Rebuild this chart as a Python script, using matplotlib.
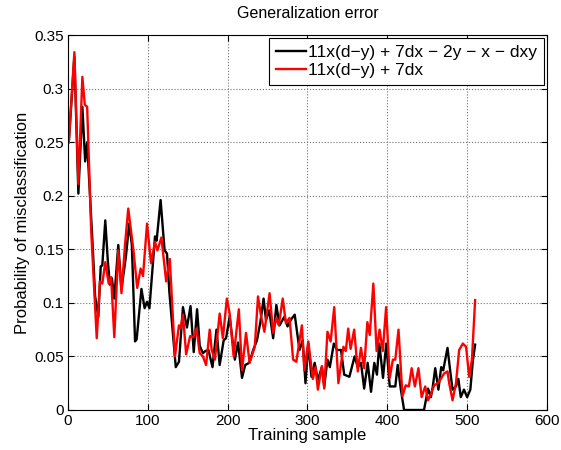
import matplotlib
matplotlib.use("Agg")
import matplotlib.pyplot as plt
from matplotlib.ticker import FormatStrFormatter

plt.rcParams.update({
    "font.family": ["Liberation Sans", "DejaVu Sans"],
    "font.size": 11,
    "axes.linewidth": 0.8,
    "xtick.direction": "in",
    "ytick.direction": "in",
    "xtick.top": True,
    "ytick.right": True,
})

# values
black_x = [1, 8, 13, 18, 21.5, 24, 31, 34, 38, 41, 43, 46.7, 50, 52.5, 55, 58, 63, 67,
           72.5, 76.7, 80, 84, 86, 92, 96, 99, 102, 109, 111, 116, 121, 124, 127, 135,
           139, 144, 149, 153.5, 157.5, 161.7, 165, 169, 172, 176, 181, 186, 190, 195,
           198, 202.5, 209, 213, 218, 222, 227, 232, 236.7, 241, 245, 248, 252, 257,
           261, 265, 271, 275, 279, 284, 290, 294, 297.5, 301, 305, 309, 313, 318, 321,
           325, 328, 333, 337, 342, 346, 352.5, 359, 363, 367, 371, 375.4, 379.6,
           383.7, 387, 390, 394.6, 398.7, 403, 407, 410, 413, 417, 421, 446, 451,
           454.6, 457, 460, 464, 467.5, 470, 475.4, 478.7, 481.7, 486, 489, 492, 496,
           500, 504, 507, 510]
black_y = [0.250, 0.330, 0.202, 0.283, 0.232, 0.250, 0.152, 0.106, 0.087, 0.134, 0.135,
           0.177, 0.138, 0.117, 0.123, 0.104, 0.154, 0.113, 0.143, 0.174, 0.154, 0.064,
           0.066, 0.113, 0.095, 0.101, 0.095, 0.162, 0.158, 0.196, 0.149, 0.146, 0.110,
           0.040, 0.045, 0.096, 0.077, 0.097, 0.054, 0.094, 0.060, 0.053, 0.055, 0.056,
           0.040, 0.075, 0.042, 0.065, 0.067, 0.087, 0.047, 0.063, 0.030, 0.042, 0.044,
           0.056, 0.065, 0.082, 0.104, 0.084, 0.093, 0.067, 0.098, 0.079, 0.087, 0.078,
           0.084, 0.089, 0.056, 0.065, 0.025, 0.062, 0.031, 0.044, 0.028, 0.040, 0.022,
           0.047, 0.040, 0.062, 0.056, 0.056, 0.033, 0.031, 0.050, 0.040, 0.044, 0.020,
           0.044, 0.017, 0.044, 0.033, 0.062, 0.030, 0.062, 0.022, 0.022, 0.022, 0.042,
           0.019, 0.0, 0.0, 0.020, 0.012, 0.022, 0.039, 0.019, 0.040, 0.037, 0.058,
           0.037, 0.019, 0.022, 0.029, 0.012, 0.019, 0.012, 0.019, 0.045, 0.061]

red_x = [1, 8, 13, 18, 21, 24, 29, 36, 40, 43, 46.7, 51, 54, 58, 63, 67, 71.5, 75.5, 82,
         86.7, 91, 94, 99, 104, 109, 112, 117, 123, 127.5, 134, 139, 141, 144, 148, 153,
         157, 161, 165, 169, 173, 177.5, 180, 184, 190, 194, 199, 202.5, 207.5, 214, 218,
         223, 227.5, 234, 238, 242, 246, 252.5, 257, 261, 264, 269, 273, 277.5, 282, 286,
         293, 296, 301, 306.7, 310, 313, 318, 321, 325, 329, 333.5, 338.7, 345, 348, 351,
         354, 358.5, 363, 367, 371, 375, 378, 382.5, 386.6, 390.3, 394.3, 398.5, 403, 407,
         410, 414, 419, 423, 427, 430.5, 434.5, 439, 443, 447.5, 451, 454.6, 458.7, 463,
         467, 471, 475.4, 477.5, 481.7, 486, 490, 494.6, 498.7, 502.5, 506, 510]
red_y = [0.250, 0.334, 0.211, 0.311, 0.285, 0.283, 0.168, 0.067, 0.120, 0.118, 0.138,
         0.118, 0.124, 0.068, 0.149, 0.109, 0.155, 0.188, 0.149, 0.114, 0.132, 0.125,
         0.174, 0.137, 0.157, 0.149, 0.161, 0.120, 0.141, 0.050, 0.079, 0.076, 0.089,
         0.052, 0.069, 0.068, 0.076, 0.053, 0.050, 0.042, 0.075, 0.056, 0.047, 0.090,
         0.067, 0.104, 0.090, 0.050, 0.094, 0.037, 0.072, 0.044, 0.059, 0.106, 0.087,
         0.073, 0.109, 0.072, 0.086, 0.079, 0.104, 0.081, 0.086, 0.047, 0.045, 0.079,
         0.037, 0.064, 0.029, 0.040, 0.019, 0.041, 0.020, 0.073, 0.064, 0.096, 0.025,
         0.059, 0.055, 0.076, 0.057, 0.075, 0.036, 0.058, 0.039, 0.082, 0.070, 0.118,
         0.055, 0.075, 0.055, 0.096, 0.030, 0.047, 0.047, 0.075, 0.013, 0.023, 0.022,
         0.039, 0.022, 0.039, 0.012, 0.022, 0.009, 0.015, 0.023, 0.025, 0.029, 0.034,
         0.036, 0.025, 0.009, 0.025, 0.056, 0.062, 0.059, 0.031, 0.047, 0.1026]

labels = ["11x(d\u2212y) + 7dx \u2212 2y \u2212 x \u2212 dxy", "11x(d\u2212y) + 7dx"]
x_ticks = [0, 100, 200, 300, 400, 500, 600]
y_ticks = [0, 0.05, 0.1, 0.15, 0.2, 0.25, 0.3, 0.35]

fig = plt.figure(figsize=(5.61, 4.5), dpi=100)
ax = fig.add_axes([0.1212, 0.0889, 0.8538, 0.8333])

ax.plot(black_x, black_y, color="black", lw=1.7, solid_joinstyle="round", label=labels[0])
ax.plot(red_x, red_y, color="red", lw=1.7, solid_joinstyle="round", label=labels[1])

ax.set_xlim(0, 600)
ax.set_ylim(0, 0.35)
ax.set_xticks(x_ticks)
ax.set_yticks(y_ticks)
ax.yaxis.set_major_formatter(FormatStrFormatter("%g"))
ax.tick_params(length=4, width=0.8, labelsize=11, pad=3)
ax.grid(True, linestyle=":", color="0.45", linewidth=0.8)

ax.set_title("Generalization error", fontsize=11.5, pad=12)
ax.set_xlabel("Training sample", fontsize=12, labelpad=0)
ax.set_ylabel("Probability of misclassification", fontsize=12, labelpad=3)

leg = ax.legend(loc="upper right", fancybox=False, framealpha=1, edgecolor="black",
                fontsize=12.5, handlelength=1.7, borderaxespad=0.15, labelspacing=0.2,
                handletextpad=0.15, borderpad=0.4)
leg.get_frame().set_linewidth(0.8)

fig.savefig("out.png", dpi=100)
